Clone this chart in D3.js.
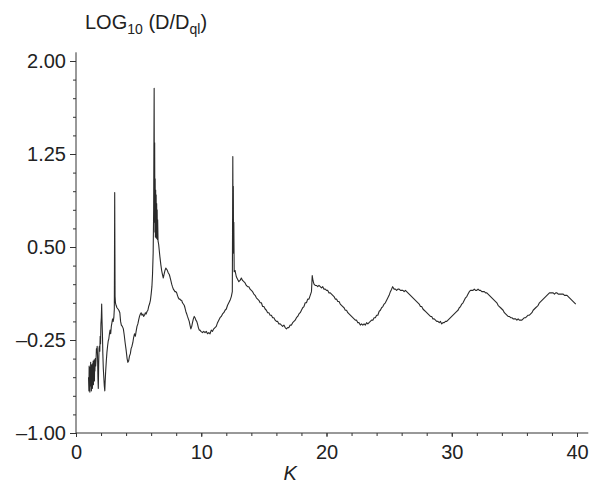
<!DOCTYPE html>
<html>
<head>
    <title>LOG10 (D/Dql) vs K</title>
    <script src="https://cdnjs.cloudflare.com/ajax/libs/d3/7.8.5/d3.min.js"></script>
    <style>
        body { margin: 0; background: #fff; }
        svg { display: block; font-family: "Liberation Sans", Arial, sans-serif; }
        .axis text { font-size: 20px; fill: #222; }
        .axis line, .axis path { stroke: #333; }
    </style>
</head>
<body>
    <div id="chart"></div>

    <script>
        // K values (x)
        const kVals = [
            1.00,1.03,1.05,1.07,1.09,1.11,1.13,1.15,1.17,1.19,1.21,1.23,1.25,1.27,1.29,1.31,1.33,1.35,1.37,1.39,
            1.41,1.43,1.45,1.47,1.49,1.51,1.54,1.57,1.60,1.63,1.66,1.69,1.72,1.75,1.78,1.81,1.84,1.87,1.90,1.93,
            1.96,1.99,2.02,2.05,2.08,2.11,2.14,2.18,2.22,2.26,2.30,2.33,2.37,2.42,2.47,2.52,2.57,2.62,2.67,2.72,
            2.77,2.82,2.87,2.92,2.97,3.02,3.06,3.09,3.12,3.15,3.20,3.27,3.35,3.42,3.50,3.56,3.62,3.70,3.78,3.85,
            3.92,4.00,4.08,4.14,4.20,4.27,4.34,4.40,4.47,4.54,4.60,4.67,4.74,4.80,4.87,4.94,5.00,5.07,5.14,5.20,
            5.27,5.34,5.40,5.47,5.54,5.60,5.67,5.74,5.80,5.87,5.94,6.00,6.06,6.11,6.16,6.20,6.24,6.26,6.28,6.30,
            6.32,6.34,6.36,6.38,6.40,6.42,6.44,6.46,6.48,6.50,6.52,6.55,6.60,6.65,6.70,6.77,6.84,6.90,6.97,7.03,
            7.10,7.17,7.24,7.30,7.37,7.44,7.50,7.57,7.64,7.70,7.77,7.84,7.90,7.97,8.04,8.10,8.17,8.24,8.30,8.37,
            8.44,8.50,8.57,8.64,8.70,8.77,8.84,8.90,8.97,9.04,9.10,9.17,9.24,9.30,9.37,9.44,9.50,9.57,9.64,9.70,
            9.77,9.84,9.90,9.97,
            10.1,10.2,10.3,10.4,10.5,10.6,10.7,10.8,10.9,11.0,11.1,11.2,11.3,11.4,11.5,11.6,11.7,11.8,11.9,12.0,
            12.1,12.2,12.3,12.4,12.48,12.52,12.54,12.56,12.58,12.60,12.63,12.7,12.8,12.9,13.0,13.1,13.2,13.3,13.4,13.5,
            13.6,13.7,13.8,13.9,14.0,14.1,14.2,14.3,14.4,14.5,14.6,14.7,14.8,14.9,15.0,15.1,15.2,15.3,15.4,15.5,
            15.6,15.7,15.8,15.9,16.0,16.1,16.2,16.3,16.4,16.5,16.6,16.7,16.8,16.9,17.0,17.1,17.2,17.3,17.4,17.5,
            17.6,17.7,17.8,17.9,18.0,18.1,18.2,18.3,18.4,18.5,18.6,18.7,18.8,18.86,18.92,19.0,19.1,19.2,19.3,19.4,
            19.5,19.6,19.7,19.8,19.9,20.0,20.1,20.2,20.3,20.4,20.5,20.6,20.7,20.8,20.9,21.0,21.1,21.2,21.3,21.4,
            21.5,21.6,21.7,21.8,21.9,22.0,22.1,22.2,22.3,22.4,22.5,22.6,22.7,22.8,22.9,23.0,23.1,23.2,23.3,23.4,
            23.5,23.6,23.7,23.8,23.9,24.0,24.1,24.2,24.3,24.4,24.5,24.6,24.7,24.8,24.9,25.0,25.1,25.2,25.28,25.4,
            25.5,25.6,25.7,25.8,25.9,26.0,26.1,26.2,26.3,26.4,26.5,26.6,26.7,26.8,26.9,27.0,27.1,27.2,27.3,27.4,
            27.5,27.6,27.7,27.8,27.9,28.0,28.1,28.2,28.3,28.4,28.5,28.6,28.7,28.8,28.9,29.0,29.1,29.2,29.3,29.4,
            29.5,29.6,29.7,29.8,29.9,30.0,30.1,30.2,30.3,30.4,30.5,30.6,30.7,30.8,30.9,31.0,31.1,31.2,31.3,31.4,
            31.5,31.6,31.7,31.8,31.9,32.0,32.1,32.2,32.3,32.4,32.5,32.6,32.7,32.8,32.9,33.0,33.1,33.2,33.3,33.4,
            33.5,33.6,33.7,33.8,33.9,34.0,34.1,34.2,34.3,34.4,34.5,34.6,34.7,34.8,34.9,35.0,35.1,35.2,35.3,35.4,
            35.5,35.6,35.7,35.8,35.9,36.0,36.1,36.2,36.3,36.4,36.5,36.6,36.7,36.8,36.9,37.0,37.1,37.2,37.3,37.4,
            37.5,37.6,37.7,37.8,37.9,38.0,38.1,38.2,38.3,38.4,38.5,38.6,38.7,38.8,38.9,39.0,39.1,39.2,39.3,39.4,
            39.5,39.6,39.7,39.8,39.9
        ];

        // LOG10(D/Dql) values (y), one per K above
        const logD = [
            -0.55,-0.66,-0.46,-0.63,-0.49,-0.67,-0.47,-0.60,-0.43,-0.62,-0.50,-0.66,-0.45,-0.58,-0.47,-0.64,-0.44,-0.56,-0.42,-0.61,
            -0.46,-0.53,-0.41,-0.58,-0.44,-0.50,-0.40,-0.46,-0.41,-0.32,-0.35,-0.30,-0.38,-0.55,-0.64,-0.45,-0.32,-0.30,-0.34,-0.22,
            -0.28,-0.12,-0.07,0.04,-0.10,-0.20,-0.35,-0.48,-0.55,-0.62,-0.66,-0.58,-0.50,-0.42,-0.35,-0.30,-0.26,-0.24,-0.20,-0.17,
            -0.20,-0.14,-0.11,-0.08,-0.10,-0.07,0.00,0.94,0.10,0.05,0.03,0.01,0.00,-0.01,-0.03,-0.10,-0.13,-0.14,-0.16,-0.21,
            -0.27,-0.33,-0.40,-0.43,-0.42,-0.38,-0.36,-0.32,-0.30,-0.27,-0.23,-0.20,-0.22,-0.18,-0.14,-0.12,-0.09,-0.06,-0.04,-0.03,
            -0.05,-0.04,-0.06,-0.05,-0.03,-0.04,-0.02,-0.01,0.02,0.04,0.07,0.12,0.18,0.28,0.45,0.80,1.78,0.70,1.34,0.62,
            1.05,0.58,0.96,0.60,0.92,0.57,0.85,0.60,0.80,0.56,0.72,0.55,0.52,0.47,0.42,0.36,0.31,0.28,0.25,0.28,
            0.31,0.33,0.32,0.31,0.29,0.28,0.26,0.23,0.20,0.18,0.16,0.15,0.14,0.14,0.13,0.11,0.09,0.08,0.08,0.07,
            0.07,0.05,0.04,0.03,0.01,-0.02,-0.04,-0.06,-0.08,-0.10,-0.13,-0.16,-0.14,-0.11,-0.08,-0.06,-0.07,-0.09,-0.10,-0.12,
            -0.15,-0.17,-0.17,-0.18,
            -0.19,-0.18,-0.19,-0.18,-0.20,-0.19,-0.20,-0.17,-0.18,-0.16,-0.15,-0.14,-0.11,-0.09,-0.07,-0.06,-0.04,-0.03,-0.01,0.00,
            0.03,0.05,0.07,0.10,0.14,1.23,0.62,0.99,0.45,0.70,0.30,0.31,0.26,0.24,0.22,0.23,0.25,0.23,0.22,0.21,
            0.19,0.18,0.18,0.16,0.15,0.14,0.12,0.11,0.09,0.08,0.07,0.05,0.05,0.02,0.02,0.00,-0.01,-0.03,-0.03,-0.05,
            -0.05,-0.07,-0.07,-0.09,-0.10,-0.10,-0.12,-0.12,-0.13,-0.14,-0.13,-0.15,-0.16,-0.15,-0.15,-0.13,-0.13,-0.11,-0.10,-0.09,
            -0.07,-0.06,-0.04,-0.03,-0.01,0.01,0.02,0.05,0.05,0.08,0.08,0.11,0.14,0.27,0.23,0.20,0.19,0.19,0.18,0.19,
            0.18,0.17,0.18,0.16,0.16,0.15,0.15,0.13,0.13,0.12,0.11,0.10,0.08,0.08,0.06,0.06,0.04,0.03,0.02,0.01,
            -0.01,-0.01,-0.03,-0.04,-0.05,-0.06,-0.07,-0.08,-0.09,-0.09,-0.11,-0.11,-0.13,-0.12,-0.13,-0.12,-0.13,-0.11,-0.12,-0.11,
            -0.10,-0.09,-0.09,-0.07,-0.07,-0.05,-0.05,-0.02,-0.01,0.01,0.02,0.04,0.05,0.07,0.09,0.11,0.14,0.16,0.18,0.16,
            0.16,0.15,0.16,0.16,0.15,0.15,0.15,0.14,0.15,0.14,0.13,0.12,0.11,0.10,0.09,0.08,0.07,0.06,0.05,0.04,
            0.02,0.02,0.00,-0.01,-0.02,-0.03,-0.04,-0.05,-0.06,-0.06,-0.08,-0.08,-0.09,-0.10,-0.10,-0.11,-0.10,-0.12,-0.11,-0.11,
            -0.10,-0.10,-0.09,-0.08,-0.07,-0.06,-0.05,-0.04,-0.03,-0.02,-0.01,0.01,0.02,0.04,0.05,0.07,0.09,0.10,0.12,0.14,
            0.15,0.15,0.15,0.16,0.15,0.15,0.16,0.15,0.15,0.14,0.14,0.14,0.13,0.13,0.12,0.11,0.10,0.09,0.08,0.07,
            0.06,0.05,0.03,0.02,0.01,0.00,-0.01,-0.03,-0.04,-0.05,-0.06,-0.06,-0.07,-0.07,-0.08,-0.08,-0.08,-0.09,-0.08,-0.09,
            -0.09,-0.09,-0.08,-0.07,-0.07,-0.06,-0.05,-0.05,-0.04,-0.03,-0.01,0.00,0.01,0.02,0.03,0.05,0.06,0.07,0.08,0.09,
            0.10,0.11,0.12,0.13,0.13,0.13,0.13,0.12,0.13,0.13,0.12,0.12,0.12,0.12,0.12,0.11,0.11,0.11,0.10,0.09,
            0.08,0.07,0.06,0.05,0.04
        ];

        const yMajor = [-1.00, -0.25, 0.50, 1.25, 2.00];
        const xMajor = [0, 10, 20, 30, 40];

        const width = 594;
        const height = 491;

        const svg = d3.select('#chart')
            .append('svg')
            .attr('width', width)
            .attr('height', height);

        const x = d3.scaleLinear().domain([0, 40]).range([76, 577]);
        const y = d3.scaleLinear().domain([-1, 2]).range([433, 61]);

        const fmt = d => (d < 0 ? '\u2013' : '') + d3.format('.2f')(Math.abs(d));

        // y axis: minor ticks every 0.15, labelled majors
        svg.append('g')
            .attr('class', 'axis')
            .attr('transform', `translate(${x(0)},0)`)
            .call(d3.axisLeft(y).tickValues(d3.range(-1, 2.001, 0.15)).tickSize(3).tickFormat(''))
            .call(g => g.select('.domain').remove());

        svg.append('g')
            .attr('class', 'axis')
            .attr('transform', `translate(${x(0)},0)`)
            .call(d3.axisLeft(y).tickValues(yMajor).tickSize(6).tickPadding(4).tickFormat(fmt))
            .call(g => g.select('.domain').remove());

        // x axis: minor ticks every 2
        svg.append('g')
            .attr('class', 'axis')
            .attr('transform', `translate(0,${y(-1)})`)
            .call(d3.axisBottom(x).tickValues(d3.range(0, 40.001, 2)).tickSize(3).tickFormat(''))
            .call(g => g.select('.domain').remove());

        svg.append('g')
            .attr('class', 'axis')
            .attr('transform', `translate(0,${y(-1)})`)
            .call(d3.axisBottom(x).tickValues(xMajor).tickSize(4).tickPadding(8).tickFormat(d3.format('d')))
            .call(g => g.select('.domain').remove());

        // axis lines
        svg.append('line')
            .attr('x1', x(0)).attr('x2', x(0))
            .attr('y1', y(-1)).attr('y2', y(2.07))
            .attr('stroke', '#333');
        svg.append('line')
            .attr('x1', x(0)).attr('x2', x(40.9))
            .attr('y1', y(-1)).attr('y2', y(-1))
            .attr('stroke', '#333');

        // the curve
        const pts = kVals.map((k, i) => [k, logD[i]]);
        svg.append('path')
            .datum(pts)
            .attr('fill', 'none')
            .attr('stroke', '#2a2a2a')
            .attr('stroke-width', 1.1)
            .attr('stroke-linejoin', 'round')
            .attr('d', d3.line().x(d => x(d[0])).y(d => y(d[1])));

        // y title
        const title = svg.append('text')
            .attr('x', 85)
            .attr('y', 29)
            .attr('font-size', 20)
            .attr('fill', '#222');
        title.append('tspan').text('LOG');
        title.append('tspan').attr('font-size', 14).attr('dy', 5).text('10');
        title.append('tspan').attr('dy', -5).text(' (D/D');
        title.append('tspan').attr('font-size', 14).attr('dy', 5).text('ql');
        title.append('tspan').attr('dy', -5).text(')');

        // x title
        svg.append('text')
            .attr('x', x(17.1))
            .attr('y', 480)
            .attr('text-anchor', 'middle')
            .attr('font-size', 20)
            .attr('font-style', 'italic')
            .attr('fill', '#222')
            .text('K');
    </script>
</body>
</html>
